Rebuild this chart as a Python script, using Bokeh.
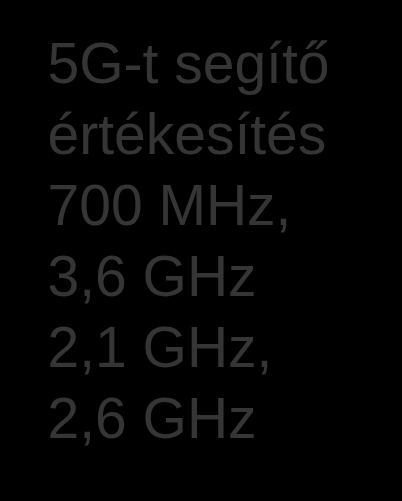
from bokeh.core.properties import value
from bokeh.embed import file_html
from bokeh.models import ColumnDataSource, Range1d, GlobalInlineStyleSheet
from bokeh.plotting import figure
from bokeh.resources import INLINE

# text lines, top to bottom
lines = ['5G-t segítő', 'értékesítés', '700 MHz,', '3,6 GHz', '2,1 GHz,', '2,6 GHz']
line_no = list(range(len(lines)))

source = ColumnDataSource(data={'line': lines,
                                'row': line_no,
                                'col': [0] * len(lines)})

W, H = 386, 485
first, gap, left = 62, 71, 47   # pixels inside the figure

p = figure(width=W, height=H, output_backend="svg", toolbar_location=None, tools="",
           x_range=Range1d(-left / gap, (W - left) / gap),
           y_range=Range1d((H - first) / gap, -first / gap),
           min_border=0, outline_line_color=None)
p.axis.visible = False
p.grid.grid_line_color = None
p.background_fill_color = "black"
p.border_fill_color = "black"
p.stylesheets = [GlobalInlineStyleSheet(css="html, body {background: #000;}")]

p.text(x='col', y='row', text='line', source=source,
       text_font=value("Liberation Sans"), text_font_size="57px",
       text_color="#353535", text_align="left", text_baseline="alphabetic")

open("out.html", "w").write(file_html(p, INLINE))
